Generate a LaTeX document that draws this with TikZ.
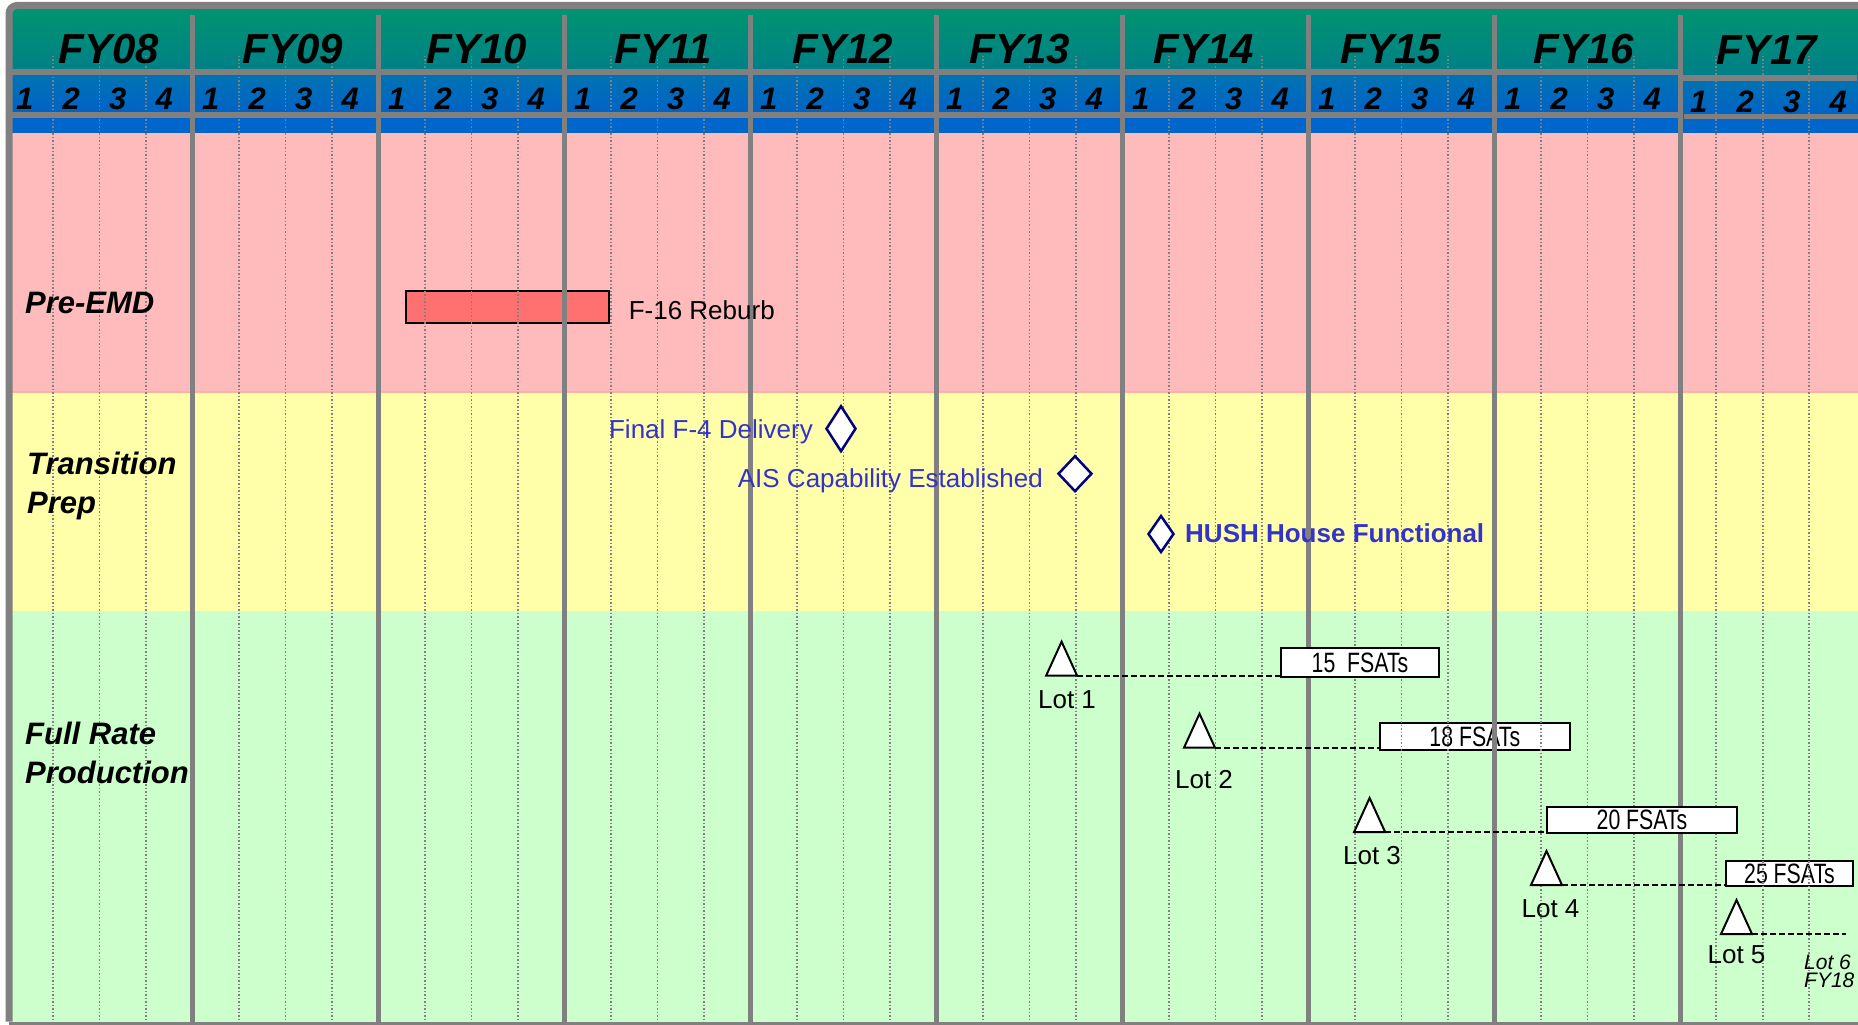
\documentclass[tikz,border=0pt]{standalone}
\usepackage{fontspec}
\setmainfont{Liberation Sans}
\newfontfamily\narrowfont[FakeStretch=0.76]{Liberation Sans}
\usetikzlibrary{shapes.geometric,calc}
\definecolor{gridgray}{RGB}{128,128,128}
\definecolor{hdgreenA}{RGB}{0,148,112}
\definecolor{hdgreenB}{RGB}{0,126,138}
\definecolor{hdblueA}{RGB}{0,116,178}
\definecolor{hdblueB}{RGB}{0,98,200}
\definecolor{hdstrip}{RGB}{0,102,204}
\definecolor{bandpink}{RGB}{255,187,187}
\definecolor{bandyellow}{RGB}{255,255,170}
\definecolor{bandgreen}{RGB}{204,255,204}
\definecolor{bandedge}{RGB}{255,176,160}
\definecolor{barred}{RGB}{255,112,112}
\definecolor{msblue}{RGB}{51,51,204}
\definecolor{msnavy}{RGB}{0,0,128}
\tikzset{
  fylabel/.style={font=\fontsize{42}{50}\selectfont\bfseries\itshape, anchor=base, inner sep=0},
  qlabel/.style={font=\fontsize{31}{37}\selectfont\bfseries\itshape, anchor=base, inner sep=0},
  rowlabel/.style={font=\fontsize{31}{38.5}\selectfont\bfseries\itshape, anchor=base west, align=left, inner sep=0},
  yeardiv/.style={draw=gridgray, line width=5.5pt},
  quarterline/.style={draw=gridgray, line width=1.4pt, dash pattern=on 1.5pt off 2pt},
  hdline/.style={draw=gridgray, line width=5.5pt},
  milestone/.style={diamond, draw=msnavy, line width=2.5pt, fill=white, inner sep=0},
  mstext/.style={font=\fontsize{26}{30}\selectfont, text=msblue, inner sep=0},
  lot/.style={draw=black, line width=2pt, fill=white, line join=miter},
  lottext/.style={font=\fontsize{26}{30}\selectfont, anchor=base, inner sep=0},
  smalllot/.style={font=\fontsize{21}{18}\selectfont\itshape, anchor=base west, inner sep=0},
  fsat/.style={draw=black, line width=2pt, fill=white, font=\narrowfont\fontsize{28}{32}\selectfont, inner sep=0},
  lead/.style={draw=black, line width=2pt, dash pattern=on 6pt off 3pt},
  bordergray/.style={draw=gridgray, line width=7pt}
}
\begin{document}
\begin{tikzpicture}[x=1pt,y=-1pt]
\useasboundingbox (0,0) rectangle (1858,1025);
\fill[white] (0,0) rectangle (1858,1025);
% bands
\fill[bandpink] (12,131) rectangle (1858,391.5);
\fill[bandyellow] (12,391.5) rectangle (1858,611);
\fill[bandgreen] (12,611) rectangle (1858,1021.5);
\draw[bandedge, line width=2pt] (12,391.5) -- (1858,391.5);
% header
\shade[top color=hdgreenA, bottom color=hdgreenB] (12,9) rectangle (1858,78);
\shade[top color=hdblueA, bottom color=hdblueB] (12,72) rectangle (1680,115);
\shade[top color=hdblueA, bottom color=hdblueB] (1680,78) rectangle (1858,116.5);
\fill[hdstrip] (12,115) rectangle (1858,133);
\draw[hdline] (9,72) -- (1680.5,72);
\draw[hdline] (9,115) -- (1680.5,115);
\draw[hdline] (1680.5,78) -- (1857,78);
\draw[hdline] (1684,116.7) -- (1862,116.7);
% content that lies beneath the grid
\node[draw=black, line width=2pt, fill=barred, minimum width=203pt, minimum height=32pt, inner sep=0] (reburb) at (507.2,306.7) {};
\node[fsat, minimum width=189.5pt, minimum height=27pt] (b2) at (1474.8,736.5) {18 FSATs};
\node[fsat, minimum width=127pt, minimum height=25pt] (b4) at (1789.5,873.5) {25 FSATs};
% grid
\foreach \k in {1,...,9} {
  \draw[yeardiv] ({6.5+186*\k},15) -- ({6.5+186*\k},1021.5);
}
\foreach \i in {0,...,8} {
  \foreach \q in {1,2,3} {
    \draw[quarterline] ({6.5+186*\i+46.5*\q},56) -- ({6.5+186*\i+46.5*\q},1021.5);
  }
}
\foreach \x in {1716,1763,1809} {
  \draw[quarterline] (\x,56) -- (\x,1021.5);
}
% year labels
\foreach \lbl/\cx in {FY08/109, FY09/293, FY10/477, FY11/663, FY12/843, FY13/1020, FY14/1204, FY15/1391, FY16/1584} {
  \node[fylabel] (\lbl) at (\cx,63.5) {\lbl};
}
\node[fylabel] (FY17) at (1767,65) {FY17};
% quarter labels
\foreach \i in {0,...,8} {
  \foreach \q in {1,2,3,4} {
    \node[qlabel] (q\i-\q) at ({6.5+186*\i+46.5*(\q-0.5)-5},109.5) {\q};
  }
}
\foreach \q in {1,2,3,4} {
  \node[qlabel] (q9-\q) at ({1680.5+46.5*(\q-0.5)-5},112) {\q};
}
% row labels (base anchor = last line)
\node[rowlabel] (pre) at (25,313) {Pre-EMD};
\node[rowlabel] (trans) at (27,513) {Transition\\Prep};
\node[rowlabel] (frp) at (25,783) {Full Rate\\Production};
% pre-EMD
\node[font=\fontsize{26}{30}\selectfont, anchor=base west, inner sep=0] (reburbtxt) at (628.6,319) {F-16 Reburb};
% milestones
\node[milestone, minimum width=30pt, minimum height=46pt] (m1) at (841,428.7) {};
\node[mstext, anchor=base east] (m1t) at (813,438) {Final F-4 Delivery};
\node[milestone, minimum width=34pt, minimum height=36pt] (m2) at (1075,473.7) {};
\node[mstext, anchor=base east] (m2t) at (1043,487) {AIS Capability Established};
\node[milestone, minimum width=26pt, minimum height=37pt] (m3) at (1161,534) {};
\node[mstext, font=\fontsize{26}{30}\selectfont\bfseries, anchor=base west] (m3t) at (1185,542.5) {HUSH House Functional};
% production lots
\foreach \n/\cx/\by in {1/1061.6/675.7, 2/1199.5/747.7, 3/1369.6/832, 4/1546.5/885, 5/1736.5/934} {
  \coordinate (t\n) at (\cx,\by);
  \coordinate (t\n r) at (\cx+15.5,\by);
  \draw[lot] (\cx-15.5,\by) -- (\cx+15.5,\by) -- (\cx,\by-34) -- cycle;
}
\node[fsat, minimum width=158pt, minimum height=29pt] (b1) at (1360,662.5) {15\ \ FSATs};
\node[fsat, minimum width=190pt, minimum height=26pt] (b3) at (1642,820) {20 FSATs};
\coordinate (lot6end) at (1846,934);
\draw[lead] (t1r) -- (t1r -| b1.west);
\draw[lead] (t2r) -- (t2r -| b2.west);
\draw[lead] (t3r) -- (t3r -| b3.west);
\draw[lead] (t4r) -- (t4r -| b4.west);
\draw[lead] (t5r) -- (lot6end);
\node[lottext] (l1) at (1067,708) {Lot 1};
\node[lottext] (l2) at (1204,788) {Lot 2};
\node[lottext] (l3) at (1372,864) {Lot 3};
\node[lottext] (l4) at (1550.5,917) {Lot 4};
\node[lottext] (l5) at (1736.5,963) {Lot 5};
\node[smalllot, align=left] (l6) at (1804,987) {Lot 6\\FY18};
% outer border
\draw[bordergray, rounded corners=8pt] (9,1021.5) -- (9,5.5) -- (1870,5.5);
\draw[draw=gridgray, line width=4pt] (9,1023.5) -- (1870,1023.5);
\end{tikzpicture}
\end{document}
